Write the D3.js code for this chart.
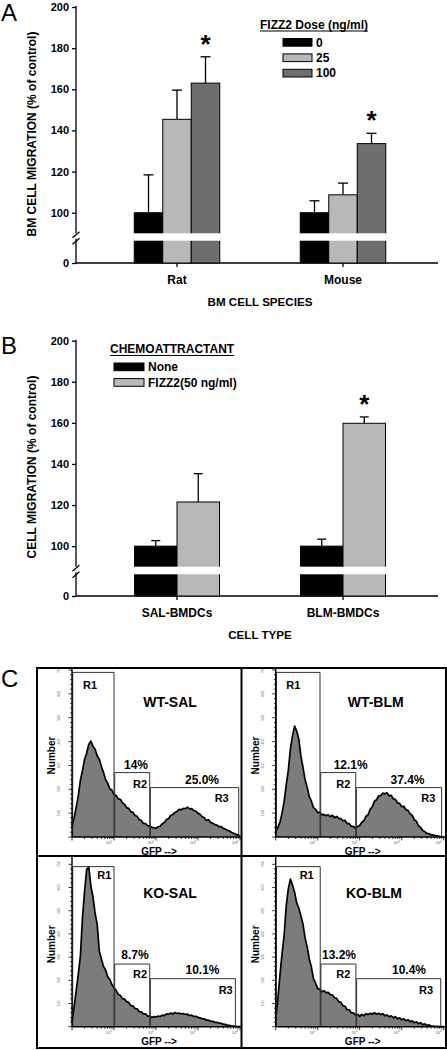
<!DOCTYPE html>
<html><head><meta charset="utf-8">
<script src="https://cdn.jsdelivr.net/npm/d3@7"></script>
<style>
body{margin:0;background:#fff}
svg{display:block;font-family:"Liberation Sans",Arial,sans-serif;font-weight:bold}
</style>
</head><body>
<svg id="c" width="447" height="1050"></svg>
<script>
// ---------- Panel A data ----------
const speciesA = ["Rat", "Mouse"];
const dosesA = ["0", "25", "100"];
const ratMeans = [100, 145.4, 163.0];
const ratSEM = [18.4, 14.2, 12.8];
const mouseMeans = [100, 108.7, 133.6];
const mouseSEM = [5.8, 5.7, 5.0];
const ratSig = [false, false, true];
const mouseSig = [false, false, true];
const yTickValues = [0, 100, 120, 140, 160, 180, 200];

// ---------- Panel B data ----------
const cellTypesB = ["SAL-BMDCs", "BLM-BMDCs"];
const attractantsB = ["None", "FIZZ2(50 ng/ml)"];
const salMeans = [100, 121.5];
const salSEM = [2.7, 13.8];
const blmMeans = [100, 159.8];
const blmSEM = [3.4, 3.1];
const salSig = [false, false];
const blmSig = [false, true];

// ---------- Panel C data (flow cytometry histograms) ----------
const gfpExp = [0,0.05,0.1,0.15,0.2,0.25,0.3,0.35,0.4,0.45,0.5,0.55,0.6,0.65,0.7,0.75,0.8,0.85,0.9,0.95,1,1.05,1.1,1.15,1.2,1.25,1.3,1.35,1.4,1.45,1.5,1.55,1.6,1.65,1.7,1.75,1.8,1.85,1.9,1.95,2,2.05,2.1,2.15,2.2,2.25,2.3,2.35,2.4,2.45,2.5,2.55,2.6,2.65,2.7,2.75,2.8,2.85,2.9,2.95,3,3.05,3.1,3.15,3.2,3.25,3.3,3.35,3.4,3.45,3.5,3.55,3.6,3.65,3.7,3.75,3.8,3.85,3.9,3.95,4];
const histWtSal = [46,80,124,172,238,279,326,352,389,402,379,368,340,326,295,271,240,226,202,196,178,175,160,158,144,137,123,120,106,104,90,87,73,69,57,56,48,47,40,39,36,43,45,56,61,73,78,90,94,103,107,116,114,120,119,125,118,119,111,108,99,95,85,81,69,73,61,58,52,50,43,44,36,33,28,26,19,16,11,9,4];
const histWtBlm = [21,40,61,99,148,217,279,368,424,465,444,410,340,292,240,208,169,150,123,116,102,104,93,95,89,93,85,91,81,86,78,77,68,70,56,57,44,45,36,44,48,62,68,87,93,116,127,150,156,172,173,184,181,186,173,175,160,158,143,141,127,129,114,112,97,91,72,66,47,40,27,23,15,14,9,9,5,5,3,2,0];
const histKoSal = [20,84,155,226,305,472,585,679,688,606,559,489,441,325,292,260,244,215,203,182,168,157,139,135,121,119,108,105,91,90,78,77,65,64,55,55,46,46,40,44,41,46,44,50,48,55,53,59,55,61,57,59,55,57,53,54,48,50,44,45,40,38,34,34,28,28,24,23,19,19,15,15,11,10,6,6,3,3,1,0,0];
const histKoBlm = [29,118,220,313,391,520,594,636,611,580,533,511,477,442,382,343,292,257,206,188,164,161,151,155,147,148,138,137,125,122,108,105,91,88,73,73,60,60,50,53,45,53,47,56,52,58,54,60,54,58,52,56,47,51,43,47,39,43,34,38,30,34,26,30,22,25,17,21,13,17,9,12,5,8,2,3,1,1,0,0,0];
const panelNames = ["WT-SAL", "WT-BLM", "KO-SAL", "KO-BLM"];
const pctR2 = ["14%", "12.1%", "8.7%", "13.2%"];
const pctR3 = ["25.0%", "37.4%", "10.1%", "10.4%"];
const gateR1End = [1.0, 1.055, 1.0, 1.06];
const gateR2End = [1.85, 1.905, 1.85, 1.91];
const gateR3End = [3.97, 3.95, 3.89, 3.93];
const gateHeights = [690, 270, 207];
const countTicks = [100, 200, 300, 400, 500, 600, 700];
const decadeLabels = ["1", "2", "3", "4"];

// ---------- drawing ----------
const svg = d3.select("#c");
const F = "Liberation Sans, Arial, sans-serif";

function barPanel(o) {
  const g = svg.append("g");
  const y = d3.scaleLinear().domain([0, 10.8, 90, 200]).range([o.y0, o.gapBottom, o.gapTop, o.y200]);
  const x0 = d3.scaleBand().domain(o.groups).range([94, 426]);
  const n = o.series.length;
  const x1 = d3.scaleBand().domain(o.series).range([0, o.barW * n]);
  const axisX = 76;

  // y axis (with break)
  const yAx = d3.axisLeft(y).tickValues(yTickValues).tickSize(4).tickPadding(3);
  const ya = g.append("g").attr("transform", `translate(${axisX},0)`).call(yAx);
  ya.select(".domain").remove();
  ya.selectAll("text").attr("font-size", 11).attr("font-family", F).attr("font-weight", "bold").attr("fill", "#000");
  ya.selectAll("line").attr("stroke", "#000").attr("stroke-width", 1.3);
  g.append("line").attr("x1", axisX).attr("x2", axisX).attr("y1", y(200) - 1).attr("y2", o.gapTop)
    .attr("stroke", "#000").attr("stroke-width", 1.3);
  g.append("line").attr("x1", axisX).attr("x2", axisX).attr("y1", o.gapBottom - 2).attr("y2", o.y0)
    .attr("stroke", "#000").attr("stroke-width", 1.3);
  [o.gapTop + 1.5, o.gapBottom + 0.5].forEach(yy => {
    g.append("line").attr("x1", axisX - 3.5).attr("x2", axisX + 3.5).attr("y1", yy + 3).attr("y2", yy - 3)
      .attr("stroke", "#000").attr("stroke-width", 1.3);
  });
  // x axis
  g.append("line").attr("x1", axisX).attr("x2", 438).attr("y1", o.y0).attr("y2", o.y0)
    .attr("stroke", "#000").attr("stroke-width", 1.3);
  o.groups.forEach(gr => {
    const cx = x0(gr) + x0.bandwidth() / 2;
    g.append("line").attr("x1", cx).attr("x2", cx).attr("y1", o.y0).attr("y2", o.y0 + 4)
      .attr("stroke", "#000").attr("stroke-width", 1.3);
    g.append("text").attr("x", cx).attr("y", o.y0 + 21).attr("text-anchor", "middle")
      .attr("font-size", 12).text(gr);
  });
  g.append("text").attr("x", 260).attr("y", o.y0 + 43).attr("text-anchor", "middle")
    .attr("font-size", 11.6).text(o.xTitle);
  g.append("text").attr("transform", `translate(36,${o.yLabelY}) rotate(-90)`).attr("text-anchor", "middle")
    .attr("font-size", 12).text(o.yTitle);

  // bars
  o.groups.forEach((gr, gi) => {
    const left = x0(gr) + x0.bandwidth() / 2 - o.barW * n / 2;
    const gg = g.append("g").attr("transform", `translate(${left},0)`);
    o.series.forEach((s, si) => {
      const m = o.means[gi][si], e = o.sems[gi][si];
      const bx = x1(s), cx = bx + o.barW / 2;
      gg.append("line").attr("x1", cx).attr("x2", cx).attr("y1", y(m)).attr("y2", y(m + e))
        .attr("stroke", "#000").attr("stroke-width", 1.3);
      gg.append("line").attr("x1", cx - o.capW / 2).attr("x2", cx + o.capW / 2).attr("y1", y(m + e)).attr("y2", y(m + e))
        .attr("stroke", "#000").attr("stroke-width", 1.3);
      gg.append("rect").attr("x", bx).attr("y", y(m)).attr("width", o.barW).attr("height", y(0) - y(m))
        .attr("fill", o.colors[si]).attr("stroke", "#000").attr("stroke-width", 1);
      if (o.sig[gi][si]) {
        gg.append("text").attr("x", cx).attr("y", y(m + e) - 4).attr("text-anchor", "middle")
          .attr("font-size", 26).text("*");
      }
    });
    gg.append("rect").attr("x", -1).attr("y", o.gapTop).attr("width", o.barW * n + 2).attr("height", o.gapBottom - o.gapTop)
      .attr("fill", "#fff");
  });

  // legend
  const lg = g.append("g");
  lg.append("text").attr("x", o.legX - o.legTitleDx).attr("y", o.legY).attr("font-size", 12).text(o.legTitle)
    .each(function () {
      const w = this.getComputedTextLength();
      lg.append("line").attr("x1", o.legX - o.legTitleDx).attr("x2", o.legX - o.legTitleDx + w)
        .attr("y1", o.legY + 2.5).attr("y2", o.legY + 2.5).attr("stroke", "#000").attr("stroke-width", 1.2);
    });
  o.series.forEach((s, si) => {
    const yy = o.legY + 10 + si * o.legStep;
    lg.append("rect").attr("x", o.legX).attr("y", yy).attr("width", o.swW).attr("height", 7.7)
      .attr("fill", o.colors[si]).attr("stroke", "#000").attr("stroke-width", 1);
    lg.append("text").attr("x", o.legX + o.swW + 4).attr("y", yy + 8).attr("font-size", 12).text(s);
  });
}

barPanel({
  groups: speciesA, series: dosesA,
  means: [ratMeans, mouseMeans], sems: [ratSEM, mouseSEM], sig: [ratSig, mouseSig],
  colors: ["#000000", "#b8b8b8", "#6e6e6e"],
  y0: 263, gapBottom: 240.7, gapTop: 233.3, y200: 7,
  barW: 28.5, capW: 10,
  xTitle: "BM CELL SPECIES", yTitle: "BM CELL MIGRATION (% of control)", yLabelY: 134,
  legTitle: "FIZZ2 Dose (ng/ml)", legX: 283, legTitleDx: 23, legY: 28.5, legStep: 15.4, swW: 29
});
barPanel({
  groups: cellTypesB, series: attractantsB,
  means: [salMeans, blmMeans], sems: [salSEM, blmSEM], sig: [salSig, blmSig],
  colors: ["#000000", "#b8b8b8"],
  y0: 596, gapBottom: 574.3, gapTop: 566.7, y200: 340.7,
  barW: 42.5, capW: 9,
  xTitle: "CELL TYPE", yTitle: "CELL MIGRATION (% of control)", yLabelY: 467,
  legTitle: "CHEMOATTRACTANT", legX: 114, legTitleDx: 4, legY: 353, legStep: 15.6, swW: 30
});

// panel letters
[["A", 21], ["B", 354], ["C", 687]].forEach(([t, yy]) => {
  svg.append("text").attr("x", 1).attr("y", yy).attr("font-size", 24).attr("font-weight", "normal").text(t);
});

// ---------- Panel C ----------
const hists = [histWtSal, histWtBlm, histKoSal, histKoBlm];
const layout = [
  {x0: 72, yBase: 837, yTop: 670, fTop: 668, right: 241.5,
   lab: {r1: [18, -148], title: [98, -130], p2: [64, -68], r2: [68, -49.5], p3: [130, -53], r3: [149.7, -35]}},
  {x0: 275.7, yBase: 837, yTop: 670, fTop: 668, right: 446,
   lab: {r1: [17.6, -148], title: [100, -130], p2: [75, -68], r2: [67.6, -49.5], p3: [131.8, -53], r3: [152.6, -35]}},
  {x0: 72, yBase: 1026.7, yTop: 864.3, fTop: 856, right: 241.5,
   lab: {r1: [32.3, -147.7], title: [98, -128.7], p2: [63, -67.7], r2: [68, -48.7], p3: [130.5, -52.7], r3: [153.7, -32.7]}},
  {x0: 275.7, yBase: 1026.7, yTop: 864.3, fTop: 856, right: 446,
   lab: {r1: [31, -147.7], title: [98.3, -128.7], p2: [63.3, -67.7], r2: [67.6, -48.7], p3: [133.3, -52.7], r3: [150.3, -32.7]}}
];

const cg = svg.append("g");
hists.forEach((h, i) => {
  const L = layout[i];
  const g = cg.append("g");
  const xs = d3.scaleLinear().domain([0, 4]).range([L.x0, L.x0 + 168]);
  const xl = d3.scaleLog().domain([1, 1e4]).range([L.x0, L.x0 + 168]);
  const ys = d3.scaleLinear().domain([0, 700]).range([L.yBase, L.yTop]);

  const area = d3.area().x((d, k) => xs(gfpExp[k])).y0(L.yBase).y1(d => ys(d));
  const line = d3.line().x((d, k) => xs(gfpExp[k])).y(d => ys(d));
  g.append("path").attr("d", area(h)).attr("fill", "#7c7c7c");
  g.append("path").attr("d", line(h)).attr("fill", "none").attr("stroke", "#000").attr("stroke-width", 1.7)
    .attr("stroke-linejoin", "round");

  const gates = [[0, gateR1End[i], gateHeights[0]], [gateR1End[i], gateR2End[i], gateHeights[1]], [gateR2End[i], gateR3End[i], gateHeights[2]]];
  gates.forEach(([a, b, hh]) => {
    g.append("path").attr("d", `M${xs(a) + 0.7},${L.yBase}V${ys(hh)}H${xs(b)}V${L.yBase}`)
      .attr("fill", "none").attr("stroke", "#333").attr("stroke-width", 1);
  });

  g.append("line").attr("x1", L.x0).attr("x2", L.x0).attr("y1", L.fTop).attr("y2", L.yBase)
    .attr("stroke", "#000").attr("stroke-width", 1.4);
  const minor = d3.range(0, 700.1, 20);
  minor.forEach(v => {
    const major = v % 100 === 0;
    g.append("line").attr("x1", L.x0 - (major ? 3.5 : 1.8)).attr("x2", L.x0).attr("y1", ys(v)).attr("y2", ys(v))
      .attr("stroke", "#000").attr("stroke-width", 0.8);
  });
  countTicks.forEach(v => {
    g.append("text").attr("transform", `translate(${L.x0 - 12},${ys(v)}) rotate(-90)`)
      .attr("text-anchor", "middle").attr("font-size", 3.6).attr("font-weight", "normal").attr("fill", "#666").text(v);
  });
  g.append("line").attr("x1", L.x0).attr("x2", L.right).attr("y1", L.yBase).attr("y2", L.yBase)
    .attr("stroke", "#000").attr("stroke-width", 1.4);
  xl.ticks().forEach(v => {
    const major = Math.abs(Math.log10(v) - Math.round(Math.log10(v))) < 1e-9;
    g.append("line").attr("x1", xl(v)).attr("x2", xl(v)).attr("y1", L.yBase).attr("y2", L.yBase + (major ? 3.5 : 2))
      .attr("stroke", "#000").attr("stroke-width", 0.8);
  });
  decadeLabels.forEach((d, k) => {
    const t = g.append("text").attr("x", xs(k + 1) - 5).attr("y", L.yBase + 7).attr("text-anchor", "middle")
      .attr("font-size", 3.8).attr("font-weight", "normal").attr("fill", "#555");
    t.append("tspan").text("10");
    t.append("tspan").attr("dy", -1.5).attr("font-size", 3).text(d);
  });
  g.append("text").attr("x", L.x0 + 87).attr("y", L.yBase + (i < 2 ? 17.5 : 18.3)).attr("text-anchor", "middle")
    .attr("font-size", 10).text("GFP -->");
  g.append("text").attr("transform", `translate(${L.x0 - 16.7},${(L.fTop + L.yBase) / 2 + 3}) rotate(-90)`)
    .attr("text-anchor", "middle").attr("font-size", 10).text("Number");

  const lab = L.lab;
  const put = (p, txt, size, anchor) => g.append("text").attr("x", L.x0 + p[0]).attr("y", L.yBase + p[1])
    .attr("text-anchor", anchor || "middle").attr("font-size", size).text(txt);
  put(lab.r1, "R1", 11);
  put(lab.title, panelNames[i], 14);
  put(lab.p2, pctR2[i], 12);
  put(lab.r2, "R2", 11);
  put(lab.p3, pctR3[i], 12);
  put(lab.r3, "R3", 11);
});

cg.append("rect").attr("x", 37).attr("y", 668).attr("width", 409).attr("height", 380)
  .attr("fill", "none").attr("stroke", "#000").attr("stroke-width", 2);
cg.append("line").attr("x1", 241.5).attr("x2", 241.5).attr("y1", 668).attr("y2", 1048).attr("stroke", "#000").attr("stroke-width", 2);
cg.append("line").attr("x1", 37).attr("x2", 446).attr("y1", 856).attr("y2", 856).attr("stroke", "#000").attr("stroke-width", 2);
</script>
</body></html>
